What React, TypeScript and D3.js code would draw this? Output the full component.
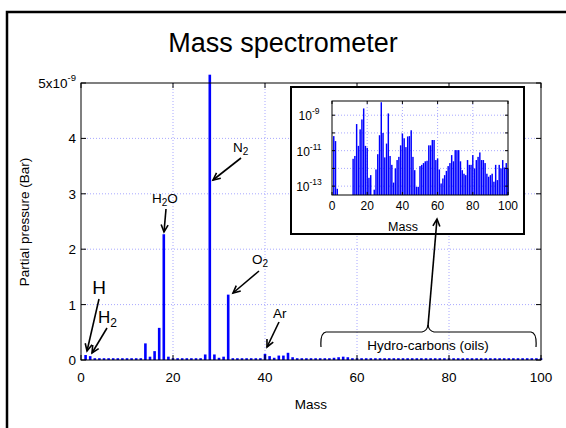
import React from 'react';
import * as d3 from 'd3';

// masses 1..100 (amu)
const masses = d3.range(1, 101);

// main chart: partial pressure in units of 1e-9 Bar
const mainValues = [
  0.09, 0.07, 0.03, 0.03, 0.03, 0.03, 0.03, 0.03, 0.03, 0.03,
  0.03, 0.03, 0.03, 0.30, 0.06, 0.16, 0.58, 2.27, 0.06, 0.03,
  0.03, 0.03, 0.03, 0.03, 0.03, 0.03, 0.10, 5.15, 0.10, 0.04,
  0.06, 1.18, 0.03, 0.03, 0.03, 0.03, 0.03, 0.03, 0.03, 0.11,
  0.07, 0.04, 0.08, 0.08, 0.13, 0.05, 0.03, 0.03, 0.03, 0.03,
  0.03, 0.03, 0.03, 0.03, 0.04, 0.05, 0.06, 0.05, 0.03, 0.03,
  0.03, 0.03, 0.03, 0.03, 0.03, 0.03, 0.03, 0.03, 0.03, 0.03,
  0.03, 0.03, 0.03, 0.03, 0.03, 0.03, 0.03, 0.03, 0.03, 0.03,
  0.03, 0.03, 0.03, 0.03, 0.03, 0.03, 0.03, 0.03, 0.03, 0.03,
  0.03, 0.03, 0.03, 0.03, 0.03, 0.03, 0.03, 0.03, 0.03, 0.03,
];

// inset: log10 of partial pressure (Bar), null = nothing measured
const logValues = [
  -10.18, -10.46, -13.15, null, null, null, null, null, null, null,
  null, -11.46, -11.3, -9.5, -10.73, -9.8, -9.24, -8.62, -10.73, -10.84,
  -12.53, -12.38, null, -13.2, -12.06, -11.2, -10.13, -8.27, -10.0, -11.38,
  -10.6, -8.9, -11.3, -11.8, -12.8, -12.0, -11.53, -11.35, -10.7, -10.03,
  -10.3, -10.8, -10.2, -10.18, -9.85, -11.35, -12.1, -13.04, -13.04, -11.87,
  -11.8, -11.7, -11.6, -11.57, -10.7, -10.7, -10.4, -10.4, -11.53, -11.44,
  -12.06, -12.85, -12.57, -12.38, -12.14, -11.87, -11.7, -11.25, -11.6, -10.97,
  -10.97, -10.97, -11.6, -12.1, -12.3, -12.38, -11.53, -11.8, -11.8, -11.25,
  -12.0, -11.53, -11.35, -11.1, -11.53, -11.53, -11.7, -12.3, -12.47, -12.38,
  -12.3, -12.75, -11.8, -12.66, -11.8, -12.0, -11.53, -11.95, -11.7, -12.0,
];

const xTicks = [0, 20, 40, 60, 80, 100];
const yTicks = [0, 1, 2, 3, 4, 5];
const insetDecades = [-9, -10, -11, -12, -13];
const insetLabels = [-9, -11, -13];

const gridColor = '#a8a8ff';
const font = '"Liberation Sans", Arial, sans-serif';

const Arrow = ({ x1, y1, x2, y2 }: { x1: number; y1: number; x2: number; y2: number }) => {
  const a = Math.atan2(y2 - y1, x2 - x1);
  const h = 8;
  const w = 0.45;
  const p1 = [x2 - h * Math.cos(a - w), y2 - h * Math.sin(a - w)];
  const p2 = [x2 - h * Math.cos(a + w), y2 - h * Math.sin(a + w)];
  return (
    <g stroke="black" strokeWidth={1.6} fill="none">
      <line x1={x1} y1={y1} x2={x2} y2={y2} />
      <polyline points={`${p1[0]},${p1[1]} ${x2},${y2} ${p2[0]},${p2[1]}`} />
    </g>
  );
};

const App = () => {
  const width = 566;
  const height = 428;

  // main axes
  const x = d3.scaleLinear().domain([0, 100]).range([81, 541]);
  const y = d3.scaleLinear().domain([0, 5]).range([360, 83]);
  const barW = 2.6;

  // inset axes
  const ix = d3.scaleLinear().domain([0, 100]).range([332, 508]);
  const iy = d3.scaleLinear().domain([-13.5, -8.2]).range([195, 101]);
  const ibarW = 1.45;

  const main = masses.map((m, i) => ({ m, v: mainValues[i] }));
  const inset = masses.map((m, i) => ({ m, v: logValues[i] })).filter((d) => d.v !== null) as { m: number; v: number }[];

  return (
    <svg width={width} height={height} style={{ position: 'absolute', left: 0, top: 0, background: 'white' }} fontFamily={font}>
      <rect x={0} y={0} width={width} height={height} fill="white" />
      {/* outer frame */}
      <rect x={7} y={12} width={600} height={500} fill="none" stroke="black" strokeWidth={2.5} />

      <text x={283} y={52} textAnchor="middle" fontSize={27}>Mass spectrometer</text>

      {/* main grid */}
      <g stroke={gridColor} strokeWidth={1} strokeDasharray="1,2">
        {xTicks.slice(1, -1).map((t) => (
          <line key={'gx' + t} x1={x(t)} x2={x(t)} y1={y(5)} y2={y(0)} />
        ))}
        {yTicks.slice(1, -1).map((t) => (
          <line key={'gy' + t} x1={x(0)} x2={x(100)} y1={y(t)} y2={y(t)} />
        ))}
      </g>

      {/* main bars */}
      <g fill="#0000ff">
        {main.map((d) => {
          const top = Math.min(y(d.v), y(0) - 1.8);
          return <rect key={d.m} x={x(d.m) - barW / 2} y={top} width={barW} height={y(0) - top} />;
        })}
      </g>

      {/* main axes box */}
      <rect x={x(0)} y={y(5)} width={x(100) - x(0)} height={y(0) - y(5)} fill="none" stroke="black" strokeWidth={1} />
      <g stroke="black" strokeWidth={1}>
        {xTicks.map((t) => (
          <g key={'tx' + t}>
            <line x1={x(t)} x2={x(t)} y1={y(0)} y2={y(0) - 5} />
            <line x1={x(t)} x2={x(t)} y1={y(5)} y2={y(5) + 5} />
          </g>
        ))}
        {yTicks.map((t) => (
          <g key={'ty' + t}>
            <line x1={x(0)} x2={x(0) + 5} y1={y(t)} y2={y(t)} />
            <line x1={x(100)} x2={x(100) - 5} y1={y(t)} y2={y(t)} />
          </g>
        ))}
      </g>
      <g fontSize={13.5}>
        {xTicks.map((t) => (
          <text key={'lx' + t} x={x(t)} y={382} textAnchor="middle">{t}</text>
        ))}
        {yTicks.slice(0, -1).map((t) => (
          <text key={'ly' + t} x={76} y={y(t) + 5} textAnchor="end">{t}</text>
        ))}
        <text x={76} y={y(5) + 5} textAnchor="end">
          5x10<tspan fontSize={9.5} dy={-7}>-9</tspan>
        </text>
      </g>
      <text x={311} y={409} textAnchor="middle" fontSize={13.5}>Mass</text>
      <text transform={`translate(29, ${222}) rotate(-90)`} textAnchor="middle" fontSize={13.5}>Partial pressure (Bar)</text>

      {/* annotations */}
      <text x={99} y={294} textAnchor="middle" fontSize={19}>H</text>
      <Arrow x1={99} y1={299} x2={87} y2={351} />
      <text x={98} y={323} fontSize={17}>H<tspan fontSize={12} dy={4}>2</tspan></text>
      <Arrow x1={107} y1={328} x2={92} y2={353} />

      <text x={152} y={203} fontSize={13.5}>H<tspan fontSize={10} dy={3}>2</tspan><tspan dy={-3}>O</tspan></text>
      <Arrow x1={166} y1={209} x2={164} y2={232} />

      <text x={233} y={152} fontSize={13.5}>N<tspan fontSize={10} dy={3}>2</tspan></text>
      <Arrow x1={241} y1={158} x2={213} y2={180} />

      <text x={252} y={264} fontSize={13.5}>O<tspan fontSize={10} dy={3}>2</tspan></text>
      <Arrow x1={259} y1={271} x2={233} y2={293} />

      <text x={273} y={318} fontSize={13.5}>Ar</text>
      <Arrow x1={279} y1={322} x2={267} y2={347} />

      {/* hydro-carbon brace */}
      <path
        d="M321,347 Q320,333 326,332 L422,332 Q427,331 428,325 Q429,331 434,332 L531,332 Q537,333 536,347"
        fill="none"
        stroke="black"
        strokeWidth={1.2}
      />
      <text x={428} y={350} textAnchor="middle" fontSize={13.5}>Hydro-carbons (oils)</text>

      {/* inset */}
      <rect x={291} y={87} width={233} height={147} fill="white" stroke="black" strokeWidth={2} />
      <g stroke={gridColor} strokeWidth={1} strokeDasharray="1,2">
        {xTicks.slice(1, -1).map((t) => (
          <line key={'igx' + t} x1={ix(t)} x2={ix(t)} y1={iy(-8.2)} y2={iy(-13.5)} />
        ))}
        {insetDecades.map((t) => (
          <line key={'igy' + t} x1={ix(0)} x2={ix(100)} y1={iy(t)} y2={iy(t)} />
        ))}
      </g>
      <g fill="#0000ff">
        {inset.map((d) => (
          <rect key={'ib' + d.m} x={ix(d.m) - ibarW / 2} y={iy(d.v)} width={ibarW} height={iy(-13.5) - iy(d.v)} />
        ))}
      </g>
      <rect x={ix(0)} y={iy(-8.2)} width={ix(100) - ix(0)} height={iy(-13.5) - iy(-8.2)} fill="none" stroke="black" strokeWidth={1} />
      <g stroke="black" strokeWidth={1}>
        {xTicks.map((t) => (
          <g key={'itx' + t}>
            <line x1={ix(t)} x2={ix(t)} y1={iy(-13.5)} y2={iy(-13.5) - 3} />
            <line x1={ix(t)} x2={ix(t)} y1={iy(-8.2)} y2={iy(-8.2) + 3} />
          </g>
        ))}
        {insetDecades.map((t) => (
          <g key={'ity' + t}>
            <line x1={ix(0)} x2={ix(0) + 3} y1={iy(t)} y2={iy(t)} />
            <line x1={ix(100)} x2={ix(100) - 3} y1={iy(t)} y2={iy(t)} />
          </g>
        ))}
      </g>
      <g fontSize={12}>
        {xTicks.map((t) => (
          <text key={'ilx' + t} x={ix(t)} y={210} textAnchor="middle">{t}</text>
        ))}
        {insetLabels.map((t) => (
          <text key={'ily' + t} x={309} y={iy(t) + 5} textAnchor="middle">
            10<tspan fontSize={8.5} dy={-6}>{t}</tspan>
          </text>
        ))}
      </g>
      <text x={403} y={231} textAnchor="middle" fontSize={12.5}>Mass</text>

      {/* arrow from the brace up into the inset */}
      <Arrow x1={428} y1={326} x2={437} y2={219} />
    </svg>
  );
};

export default App;
